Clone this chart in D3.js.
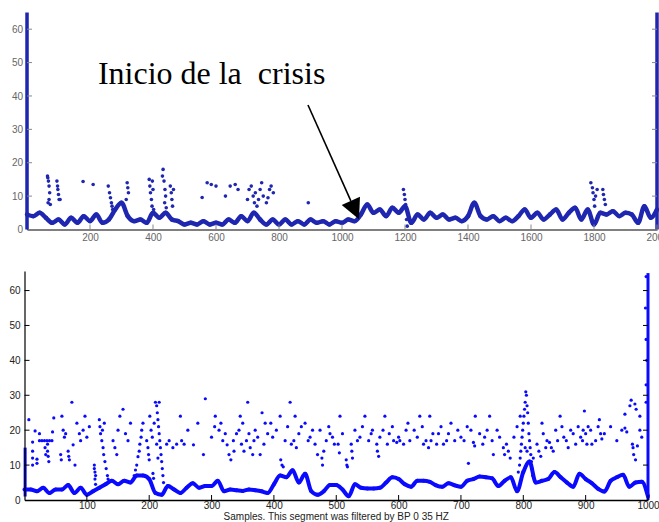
<!DOCTYPE html>
<html><head><meta charset="utf-8">
<script src="https://cdn.jsdelivr.net/npm/d3@7/dist/d3.min.js"></script>
<style>html,body{margin:0;padding:0;background:#fff;}svg{display:block;}</style>
</head><body>
<script>
// ---------- DATA ----------
// Top panel: smoothed baseline sampled every 20 samples (0..2000)
const topBaseSamples = d3.range(0, 2001, 20);
const topBaseValues = [4.5,4,5,3.5,2,3,1.5,3.5,2,4,2.5,4.5,2,3,6,8,4,2.5,3,2,5,3.5,5,3,2.5,1.5,2,1.5,2.5,1.5,
  2,1.5,3,2,4,2.5,5,3,1.5,3,1.5,3,1.5,2.5,1.5,3,2,2.5,1.5,2.5,2,3,2.5,4.5,7.5,5,6,4,6.5,5,
  7,2,4.5,3,5,3.5,4.5,3,3.5,2.5,4,8,4,3,4,2.5,3.5,2.5,4,6,3.5,5,3,4.5,6,3,5,6.5,3,6,
  1.5,5,4.5,5.5,4,5,4.5,2,7,3.5,6];
// Top panel: scattered samples [sample, value]
const topScatter = [[65,16],[68,14.5],[70,13],[72,11],[70,9],[67,8],[74,7.5],[66,15.5],
  [95,14.5],[98,12],[100,10.5],[102,9],[105,9],[97,13],[178,14.4],[210,13.5],
  [258,13],[262,11],[265,9.5],[268,8],[270,7],[272,6],[318,14],[320,12.5],[322,11],[315,9],
  [388,15],[390,13],[392,11],[395,9],[397,7],[400,12],[398,14.5],[402,6],
  [432,18],[430,16],[435,14.5],[438,12],[440,10],[437,8],[442,6.5],
  [455,13],[458,11],[460,9],[462,7],[465,12],
  [556,9.6],[572,14],[585,13.5],[600,13],[630,10],[645,13],[661,13.5],[670,12],
  [700,9],[705,12],[712,13],[718,10],[722,8],[725,11],[730,7],[735,9],[740,12],[745,14],[750,10],
  [760,8],[770,12],[775,13],[782,11],[765,9.5],[893,8],
  [1195,12],[1198,10.5],[1200,9],[1202,7.5],[1205,3],[1207,1],
  [1790,14],[1795,12.5],[1797,11],[1800,9],[1802,7],[1805,10],[1810,12],
  [1828,12],[1830,10.5],[1833,9],[1836,7.5]];
// Top panel: vertical runs at the edges [sample, low, high]
const topEdges = [[0,0,65],[2000,0,65]];
const topXTicks = [200,400,600,800,1000,1200,1400,1600,1800,2000];
const yTicks = [0,10,20,30,40,50,60];

// Bottom panel: smoothed baseline every 10 samples (0..1000)
const botBaseSamples = d3.range(0, 1001, 10);
const botBaseValues = [3,3,2.5,3.5,2,3,3,4.3,2,3.5,1.5,2.5,3.5,4.5,5.5,4.5,5.5,5,7,7,
  6,2,1.5,4,3,2,3.5,4.8,3.5,4,4,5.5,2.5,3,2.8,2.6,3,2.8,2.5,2,
  4.5,7,6.5,8.5,5,7.5,2.5,1.5,2.5,4.3,4.3,3,1.1,4.5,3.5,3.3,3.3,3.5,5,6.5,
  6,4.5,3.8,5.5,5.5,5.2,4.2,3.8,4.8,4.2,3.8,5.5,6,6.7,6.5,6.2,4,5.5,6.5,2.5,
  8,11,5,5.5,6,8,6.5,5,3.8,7.5,6,4.8,3.2,2.4,5.5,6.5,7.2,3.8,5,5.2,1];
const botScatter = [[7,23],[13,16.6],[13,14],[13,12],[13,10],[17,19.8],[20,11.7],[20,10.5],[24,19],[24,17],
  [28,17],[32,17],[36,17],[40,17],[44,17],[37,16],[37,14],[38,12.5],[39,11],[45,19.5],[47,23.5],[33,15],[34,13],
  [58,13],[59,11.5],[60,24],[62,20],[64,18],[66,19],
  [70,14],[71,12.5],[72,11.5],[76,28],[78,15.8],[81,10],[84,22],[88,19],[90,17],[94,20],[97,24],[100,18],[104,21],
  [112,10],[113,8],[113,6],[114,4.5],[112,9],[114,7],
  [120,23],[121,21],[122,19],[124,17],[126,15],[127,13],[129,11],[131,9],[133,7],[134,6],[125,20],[128,22],
  [142,17],[145,15],[148,13],[150,20],[153,24],[158,26],[162,19],[166,17],[170,22],
  [176,7],[178,8.6],[180,10],[182,12.4],[184,14],[185,16],[187,18],[188,20],[190,22],
  [196,17],[198,15],[199,13],[200,11.5],[201,24],[203,20],[205,18],[206,7.6],[207,6.2],[208,22],[210,28],[212,27],
  [213,25],[214,23],[215,21],[216,19],[217,17],[218,15],[219,13],[220,11],[221,9],[222,7],[223,5],[216,28],[212,16],[214,12],
  [228,16],[232,17],[238,15],[244,16],[250,24],[252,17],[256,16],[262,20],[271,15.8],[278,22],[287,13],[290,29],
  [300,18],[306,24],[312,20],[318,17],[325,15.8],[328,13],[331,11.5],[336,14],[340,19],
  [346,24],[348,16],[352,14],[356,17],[358,28],[362,15],[366,13],[370,20],[374,18],[378,13],[381,25],[386,22],[390,19],
  [404,20],[410,24],[411,11.5],[413,10],[415,9.5],[418,17],[422,21],[426,28],[428,16],[432,17],[434,24],[436,15],[440,19],[444,21],
  [455,17],[462,20],[470,13],[477,12],[478,10],[484,17],[490,19],[497,16],
  [503,16],[505,13.5],[506,24],[510,19],[516,11.5],[517,10],[518,9.5],[524,16],[525,14],[526,12],[530,20],[538,18],[546,24],[552,17],[558,20],
  [565,16],[566,14],[568,12.5],[570,18],[578,24],[585,19],[592,17],[597,16.5],[602,17],[608,16],[612,20],[618,17],
  [625,20],[634,24],[640,16],[644,17],[648,15],[650,24],[655,19],[661,16],[668,21],[677,17],[680,19],
  [690,17],[700,18],[712,10.5],[716,20],[720,16.5],[722,15.5],[723,24],[730,19],[738,18],[746,24],[752,13],[758,20],
  [768,15],[770,13],[773,16],[776,14],[779,12],[785,18],[790,21],
  [792,8],[794,10],[795,12],[795,24],[796,14],[797,16],[798,18],[799,20],[800,22],[801,24],[802,26],[803,28],[804,31],
  [805,30],[806,27],[807,25],[808,22],[809,19],[810,17],[811,15],[812,13],[813,11],[814,9],[815,7],[816,12],[803,15],[806,14],
  [822,16],[825,14],[828,12.5],[832,19],[838,17],[842,16.5],[845,15],[848,14],[852,20],[859,24],[865,18],[869,17],[872,15],
  [880,19],[888,21],[895,17],[896,20],[898,25.5],[900,19],[902,16],[904,21],[910,16],[916,17],[920,21],[922,23],[924,19],[926,17.5],
  [963,24.6],[963,20.6],[966,19.5],[971,27],[973,28.6],[975,16],[976,15],[977,13],[979,27.5],[980,11.5],[981,26],[983,15.5],
  [987,24],[987,20],[990,18],
  [997,64],[996,55],[997,46],[998,40],[997,33],[997,28],
  [305,21],[315,22],[322,19],[335,17],[344,20],[350,22],[360,19],[368,17],[384,16],[395,22],[398,18],
  [450,22],[458,18],[466,16],[474,20],[480,14],[488,21],[494,18],
  [534,17],[542,21],[556,19],[575,20],[582,16],[590,21],[600,18],[615,22],
  [630,18],[638,21],[652,17],[664,19],[672,16],[684,22],[695,20],[705,17],[710,21],
  [735,16],[742,20],[750,17],[762,18],[830,22],[836,15],[855,17],[862,21],[876,20],[884,16],[892,18],
  [908,20],[930,19],[940,21],[950,17],[958,20]];
const botEdges = [[1,1,15],[1000,0,65]];
const botXTicks = [100,200,300,400,500,600,700,800,900,1000];
const xLabel = "Samples. This segment was filtered by BP 0 35 HZ";
const annotationText = "Inicio de la  crisis";
const annotationTextPos = [225, 43.6];   // [sample, value] in top panel
const arrowFrom = [892, 37.3];
const arrowTo = [1054, 3.1];

// ---------- DRAW ----------
const W = 659, H = 522;
const svg = d3.select("body").append("svg").attr("width", W).attr("height", H);

function panel(o) {
  const g = svg.append("g");
  const x = d3.scaleLinear().domain(o.xDomain).range(o.xRange);
  const y = d3.scaleLinear().domain(o.yDomain).range(o.yRange);

  g.selectAll("line.edge").data(o.edges).join("line")
    .attr("x1", d => x(d[0])).attr("x2", d => x(d[0]))
    .attr("y1", d => y(d[1])).attr("y2", d => y(d[2]))
    .attr("stroke", o.color).attr("stroke-width", o.edgeW);

  const pts = o.baseS.map((s, i) => [s, o.baseV[i]]);
  g.append("path").datum(pts)
    .attr("d", d3.line().x(d => x(d[0])).y(d => y(d[1])).curve(d3.curveMonotoneX))
    .attr("fill", "none").attr("stroke", o.color).attr("stroke-width", o.lineW)
    .attr("stroke-linejoin", "round");
  g.selectAll("circle.b").data(pts).join("circle")
    .attr("cx", d => x(d[0])).attr("cy", d => y(d[1])).attr("r", o.r + 0.4).attr("fill", o.color);

  g.selectAll("circle.s").data(o.scatter).join("circle")
    .attr("cx", d => x(d[0])).attr("cy", d => y(d[1])).attr("r", o.r).attr("fill", o.color);

  const fmt = d3.format("d");
  const yAx = d3.axisLeft(y).tickValues(yTicks).tickFormat(fmt).tickSize(0).tickPadding(4);
  const ga = g.append("g").attr("transform", `translate(${o.xRange[0]},0)`).call(yAx);
  ga.select(".domain").attr("stroke", o.yAxisColor).attr("stroke-width", 1.2);
  ga.selectAll("text").attr("font-family", "Liberation Sans, Arial, sans-serif").attr("font-size", 10).attr("fill", o.textColor);

  g.selectAll("line.yl").data(yTicks.filter(v => v > 0)).join("line")
    .attr("x1", o.xRange[0]).attr("x2", o.xRange[0] + 5)
    .attr("y1", d => y(d)).attr("y2", d => y(d)).attr("stroke", o.tickColor);
  g.selectAll("line.yr").data(yTicks.filter(v => v > 0)).join("line")
    .attr("x1", x(o.xDomain[1]) - 5).attr("x2", x(o.xDomain[1]))
    .attr("y1", d => y(d)).attr("y2", d => y(d)).attr("stroke", o.tickColor);

  const xAx = d3.axisBottom(x).tickValues(o.xTicks).tickFormat(fmt).tickSize(0).tickPadding(o.xPad);
  const gx = g.append("g").attr("transform", `translate(0,${o.yRange[0]})`).call(xAx);
  gx.select(".domain").attr("stroke", o.xAxisColor).attr("stroke-width", 1.6);
  gx.selectAll("text").attr("font-family", "Liberation Sans, Arial, sans-serif").attr("font-size", 10).attr("fill", o.textColor);
  g.selectAll("line.xt").data(o.xTicks).join("line")
    .attr("x1", d => x(d)).attr("x2", d => x(d))
    .attr("y1", o.yRange[0]).attr("y2", o.yRange[0] - 5).attr("stroke", o.tickColor);
  return {x, y, g};
}

const topP = panel({
  xDomain: [0, 2000], xRange: [27, 657], yDomain: [0, 65], yRange: [229.5, 12.5],
  baseS: topBaseSamples, baseV: topBaseValues, scatter: topScatter, edges: topEdges,
  xTicks: topXTicks, color: "#1f27b0", r: 1.8, lineW: 4.5, edgeW: 3.5,
  yAxisColor: "#1f27b0", xAxisColor: "#555", tickColor: "#888", textColor: "#666", xPad: 4
});

const botP = panel({
  xDomain: [0, 1000], xRange: [24.5, 648], yDomain: [0, 65.6], yRange: [500, 271],
  baseS: botBaseSamples, baseV: botBaseValues, scatter: botScatter, edges: botEdges,
  xTicks: botXTicks, color: "#0a0aff", r: 1.6, lineW: 4, edgeW: 3,
  yAxisColor: "#000", xAxisColor: "#000", tickColor: "#000", textColor: "#222", xPad: 1.5
});

svg.append("text").attr("x", botP.x(500)).attr("y", 520)
  .attr("text-anchor", "middle").attr("font-family", "Liberation Sans, Arial, sans-serif")
  .attr("font-size", 10).attr("fill", "#222").text(xLabel);

svg.append("text").attr("x", topP.x(annotationTextPos[0])).attr("y", topP.y(annotationTextPos[1]))
  .attr("font-family", "Liberation Serif, Times New Roman, serif").attr("font-size", 32)
  .style("white-space", "pre").attr("fill", "#000").text(annotationText);

const ax0 = topP.x(arrowFrom[0]), ay0 = topP.y(arrowFrom[1]);
const ax1 = topP.x(arrowTo[0]), ay1 = topP.y(arrowTo[1]);
const ang = Math.atan2(ay1 - ay0, ax1 - ax0);
const L = 20, Wd = 10;
const bx = ax1 - L * Math.cos(ang), by = ay1 - L * Math.sin(ang);
svg.append("line").attr("x1", ax0).attr("y1", ay0).attr("x2", bx).attr("y2", by)
  .attr("stroke", "#000").attr("stroke-width", 1.6);
svg.append("polygon").attr("points", [
  [ax1, ay1],
  [bx + Wd * Math.sin(ang), by - Wd * Math.cos(ang)],
  [bx - Wd * Math.sin(ang), by + Wd * Math.cos(ang)]
].map(p => p.join(",")).join(" ")).attr("fill", "#000");
</script>
</body></html>
